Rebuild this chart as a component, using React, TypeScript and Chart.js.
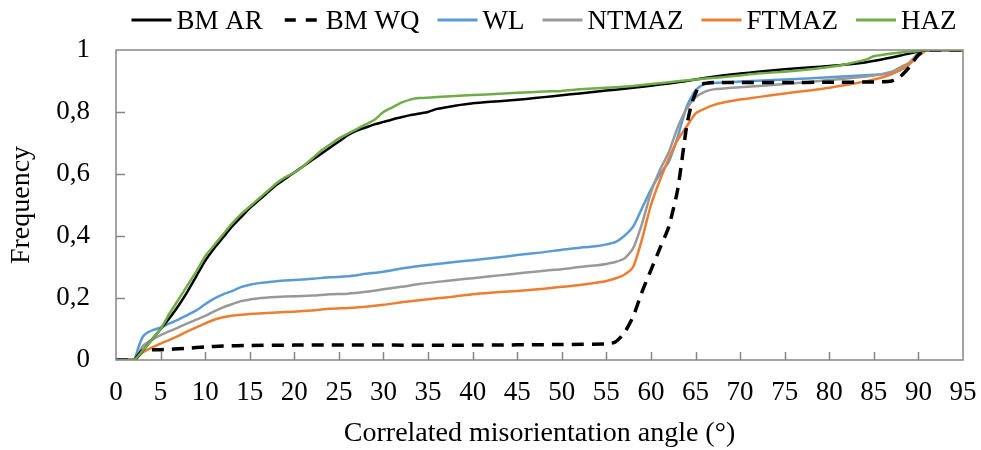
import React, { useEffect, useRef } from "react";
import { Chart, registerables } from "chart.js";

Chart.register(...registerables);

const FONT = "'Liberation Serif', 'Times New Roman', serif";

// Legend / series names
const seriesNames = ["BM AR", "BM WQ", "WL", "NTMAZ", "FTMAZ", "HAZ"];
const seriesColors = ["#000000", "#000000", "#5b9bd5", "#999999", "#ed7d31", "#70ad47"];

// Axis tick values
const xTickValues = [0, 5, 10, 15, 20, 25, 30, 35, 40, 45, 50, 55, 60, 65, 70, 75, 80, 85, 90, 95];
const yTickValues = [0, 0.2, 0.4, 0.6, 0.8, 1];

// BM AR
const bmArAngle = [0, 2, 3, 4, 5, 6, 7, 8, 9, 10, 11, 12, 13, 14, 15, 16, 17, 18, 19, 20, 21, 22, 23, 24, 25, 26, 27, 28, 29, 30, 31, 32, 33, 34, 35, 36, 37, 38, 40, 42, 44, 46, 48, 50, 52, 54, 56, 58, 60, 62, 64, 66, 68, 70, 72, 75, 78, 80, 82, 84, 86, 88, 90, 91, 95];
const bmArFreq = [0, 0, 0.03, 0.065, 0.1, 0.135, 0.175, 0.22, 0.27, 0.32, 0.36, 0.395, 0.43, 0.46, 0.49, 0.515, 0.54, 0.565, 0.585, 0.605, 0.625, 0.645, 0.665, 0.685, 0.705, 0.725, 0.74, 0.75, 0.76, 0.768, 0.776, 0.783, 0.79, 0.795, 0.8, 0.81, 0.815, 0.82, 0.828, 0.833, 0.837, 0.842, 0.848, 0.854, 0.86, 0.866, 0.872, 0.878, 0.885, 0.892, 0.9, 0.91, 0.918, 0.924, 0.93, 0.938, 0.944, 0.948, 0.953, 0.96, 0.97, 0.982, 0.995, 1, 1];

// BM WQ
const bmWqAngle = [0, 2, 3, 5, 8, 10, 12, 15, 20, 30, 40, 50, 55, 56, 57, 58, 59, 60, 61, 62, 63, 64, 64.6, 65.5, 67, 70, 75, 80, 85, 87, 88, 89, 90, 91, 95];
const bmWqFreq = [0, 0, 0.03, 0.033, 0.038, 0.042, 0.045, 0.047, 0.048, 0.048, 0.048, 0.05, 0.052, 0.058, 0.087, 0.14, 0.22, 0.29, 0.36, 0.43, 0.55, 0.753, 0.83, 0.887, 0.895, 0.895, 0.895, 0.896, 0.897, 0.9, 0.915, 0.945, 0.985, 1, 1];

// WL
const wlAngle = [0, 2, 2.5, 3, 3.5, 4.2, 5, 6, 7, 8, 9, 10, 11, 12, 13, 14, 15, 16, 18, 20, 22, 24, 26, 28, 30, 32, 34, 36, 38, 40, 42, 44, 46, 48, 50, 52, 54, 55, 56, 57, 58, 59, 60, 61, 62, 63, 64, 65, 66, 68, 70, 75, 80, 85, 87, 88, 89, 90, 91, 95];
const wlFreq = [0, 0, 0.04, 0.075, 0.088, 0.097, 0.105, 0.118, 0.13, 0.145, 0.16, 0.18, 0.198, 0.212, 0.222, 0.235, 0.243, 0.248, 0.254, 0.258, 0.262, 0.267, 0.27, 0.278, 0.285, 0.295, 0.303, 0.31, 0.316, 0.322, 0.328, 0.335, 0.342, 0.348, 0.356, 0.362, 0.368, 0.373, 0.38, 0.4, 0.43, 0.49, 0.55, 0.6, 0.64, 0.72, 0.817, 0.87, 0.89, 0.895, 0.898, 0.905, 0.912, 0.92, 0.926, 0.935, 0.955, 0.985, 1, 1];

// NTMAZ
const ntmazAngle = [0, 2, 3, 4, 5, 6, 7, 8, 9, 10, 11, 12, 13, 14, 15, 16, 18, 20, 22, 24, 26, 28, 30, 32, 34, 36, 38, 40, 42, 44, 46, 48, 50, 52, 54, 55, 56, 57, 58, 59, 60, 61, 62, 63, 64, 65, 66, 67, 70, 75, 80, 85, 87, 88, 89, 90, 91, 95];
const ntmazFreq = [0, 0, 0.045, 0.065, 0.08, 0.093, 0.105, 0.118, 0.13, 0.142, 0.157, 0.17, 0.18, 0.19, 0.195, 0.199, 0.203, 0.206, 0.208, 0.212, 0.214, 0.22, 0.228, 0.236, 0.245, 0.252, 0.258, 0.264, 0.27, 0.276, 0.282, 0.288, 0.293, 0.3, 0.306, 0.31, 0.316, 0.327, 0.36, 0.44, 0.54, 0.613, 0.67, 0.75, 0.81, 0.847, 0.865, 0.873, 0.88, 0.89, 0.903, 0.918, 0.93, 0.945, 0.96, 0.99, 1, 1];

// FTMAZ
const ftmazAngle = [0, 2, 3, 4, 5, 6, 7, 8, 9, 10, 11, 12, 13, 14, 15, 16, 18, 20, 22, 24, 26, 28, 30, 32, 34, 36, 38, 40, 42, 44, 46, 48, 50, 52, 54, 55, 56, 57, 58, 59, 60, 61, 62, 63, 64, 65, 66, 67, 68, 70, 72, 75, 78, 80, 82, 84, 86, 87, 88, 89, 90, 91, 95];
const ftmazFreq = [0, 0, 0.025, 0.04, 0.053, 0.065, 0.078, 0.092, 0.105, 0.118, 0.13, 0.138, 0.143, 0.146, 0.148, 0.15, 0.153, 0.156, 0.16, 0.165, 0.168, 0.172, 0.178, 0.186, 0.193, 0.199, 0.205, 0.212, 0.217, 0.221, 0.225, 0.23, 0.236, 0.242, 0.25, 0.255, 0.263, 0.275, 0.3, 0.39, 0.5, 0.58, 0.65, 0.71, 0.753, 0.795, 0.81, 0.822, 0.83, 0.84, 0.848, 0.86, 0.87, 0.878, 0.888, 0.898, 0.912, 0.922, 0.937, 0.955, 0.98, 1, 1];

// HAZ
const hazAngle = [0, 2, 3, 4, 5, 6, 7, 8, 9, 10, 11, 12, 13, 14, 15, 16, 17, 18, 19, 20, 21, 22, 23, 24, 25, 26, 27, 28, 29, 30, 31, 32, 33, 34, 36, 38, 40, 42, 45, 48, 50, 52, 55, 58, 60, 62, 65, 68, 70, 72, 75, 78, 80, 82, 84, 85, 86, 88, 90, 91, 95];
const hazFreq = [0, 0, 0.03, 0.065, 0.1, 0.15, 0.195, 0.24, 0.285, 0.335, 0.37, 0.405, 0.44, 0.47, 0.495, 0.52, 0.545, 0.57, 0.59, 0.605, 0.625, 0.65, 0.675, 0.695, 0.715, 0.73, 0.745, 0.76, 0.775, 0.8, 0.815, 0.83, 0.84, 0.845, 0.848, 0.852, 0.855, 0.857, 0.862, 0.866, 0.868, 0.873, 0.878, 0.884, 0.89, 0.896, 0.905, 0.912, 0.918, 0.924, 0.93, 0.938, 0.945, 0.955, 0.968, 0.98, 0.985, 0.992, 0.997, 1, 1];

const seriesAngles = [bmArAngle, bmWqAngle, wlAngle, ntmazAngle, ftmazAngle, hazAngle];
const seriesFreqs = [bmArFreq, bmWqFreq, wlFreq, ntmazFreq, ftmazFreq, hazFreq];

const FRAME = "#868686";

const framePlugin = {
  id: "frameTicks",
  afterDatasetsDraw(chart: any) {
    const { ctx, chartArea } = chart;
    const xs = chart.scales.x;
    const ys = chart.scales.y;
    ctx.save();
    ctx.strokeStyle = FRAME;
    ctx.lineWidth = 1.5;
    ctx.beginPath();
    xTickValues.forEach((v) => {
      if (v <= 0 || v >= 95) return;
      const px = Math.round(xs.getPixelForValue(v)) + 0.5;
      ctx.moveTo(px, chartArea.bottom);
      ctx.lineTo(px, chartArea.bottom - 8);
    });
    yTickValues.forEach((v) => {
      if (v <= 0 || v >= 1) return;
      const py = Math.round(ys.getPixelForValue(v)) + 0.5;
      ctx.moveTo(chartArea.left, py);
      ctx.lineTo(chartArea.left + 9, py);
    });
    ctx.stroke();
    ctx.strokeRect(chartArea.left, chartArea.top, chartArea.right - chartArea.left, chartArea.bottom - chartArea.top);
    ctx.restore();
  },
  afterDraw(chart: any) {
    const { ctx } = chart;
    ctx.save();
    ctx.font = `27px ${FONT}`;
    const lineLen = 40;
    const lineGap = 5;
    const itemGap = 18;
    const widths = chart.data.datasets.map((d: any) => ctx.measureText(d.label).width);
    const total = widths.reduce((a: number, w: number) => a + lineLen + lineGap + w, 0) + itemGap * (widths.length - 1);
    let x = 544 - total / 2;
    const yLine = 20;
    chart.data.datasets.forEach((d: any, i: number) => {
      const dashed = d.borderDash && d.borderDash.length > 0;
      ctx.strokeStyle = d.borderColor;
      ctx.lineWidth = dashed ? 3.5 : 3;
      ctx.beginPath();
      if (dashed) {
        ctx.setLineDash([11, 10]);
        ctx.moveTo(x + 4, yLine);
        ctx.lineTo(x + 36, yLine);
      } else {
        ctx.setLineDash([]);
        ctx.moveTo(x, yLine);
        ctx.lineTo(x + lineLen, yLine);
      }
      ctx.stroke();
      ctx.setLineDash([]);
      ctx.fillStyle = "#000";
      ctx.textBaseline = "middle";
      ctx.textAlign = "left";
      ctx.fillText(d.label, x + lineLen + lineGap, 21.5);
      x += lineLen + lineGap + widths[i] + itemGap;
    });
    ctx.restore();
  },
};

export default function App() {
  const canvasRef = useRef<HTMLCanvasElement | null>(null);

  useEffect(() => {
    document.body.style.margin = "0";
    const canvas = canvasRef.current;
    if (!canvas) return;
    const datasets = seriesNames.map((name, i) => ({
      label: name,
      data: seriesAngles[i].map((a, j) => ({ x: a, y: seriesFreqs[i][j] })),
      borderColor: seriesColors[i],
      backgroundColor: seriesColors[i],
      borderWidth: i === 1 ? 3.5 : 2.5,
      borderDash: i === 1 ? [12, 8] : [],
      pointRadius: 0,
      tension: 0.2,
      fill: false,
      order: [2, 1, 5, 4, 3, 0][i],
    }));
    const chart = new Chart(canvas, {
      type: "line",
      data: { datasets },
      options: {
        animation: false,
        responsive: false,
        maintainAspectRatio: false,
        layout: { padding: { top: 50, right: 18, bottom: 0, left: 0 } },
        plugins: {
          legend: { display: false },
          tooltip: { enabled: false },
        },
        scales: {
          x: {
            type: "linear",
            min: 0,
            max: 95,
            afterFit: (s: any) => {
              s.height = 90;
              s.paddingLeft = 0;
              s.paddingRight = 0;
            },
            afterBuildTicks: (s: any) => {
              s.ticks = xTickValues.map((v) => ({ value: v }));
            },
            grid: { display: false, drawTicks: false },
            border: { display: false },
            ticks: {
              padding: 17,
              color: "#000",
              font: { family: FONT, size: 27 },
              maxRotation: 0,
              autoSkip: false,
              callback: (v: any) => String(v),
            },
            title: {
              display: true,
              text: "Correlated misorientation angle (°)",
              color: "#000",
              font: { family: FONT, size: 28 },
              padding: { top: 0, bottom: 0 },
            },
          },
          y: {
            type: "linear",
            min: 0,
            max: 1,
            afterFit: (s: any) => {
              s.width = 116;
              s.paddingTop = 0;
              s.paddingBottom = 0;
            },
            afterBuildTicks: (s: any) => {
              s.ticks = yTickValues.map((v) => ({ value: v }));
            },
            grid: { display: false, drawTicks: false },
            border: { display: false },
            ticks: {
              padding: 26,
              color: "#000",
              font: { family: FONT, size: 27 },
              callback: (v: any) => {
                const n = Number(v);
                if (n === 0 || n === 1) return String(n);
                return n.toFixed(1).replace(".", ",");
              },
            },
            title: {
              display: true,
              text: "Frequency",
              color: "#000",
              font: { family: FONT, size: 28 },
              padding: { top: 5, bottom: 0 },
            },
          },
        },
      },
      plugins: [framePlugin],
    });
    return () => chart.destroy();
  }, []);

  return (
    <div style={{ width: 981, height: 450, background: "#fff" }}>
      <canvas ref={canvasRef} width={981} height={450} style={{ width: 981, height: 450, display: "block" }} />
    </div>
  );
}
